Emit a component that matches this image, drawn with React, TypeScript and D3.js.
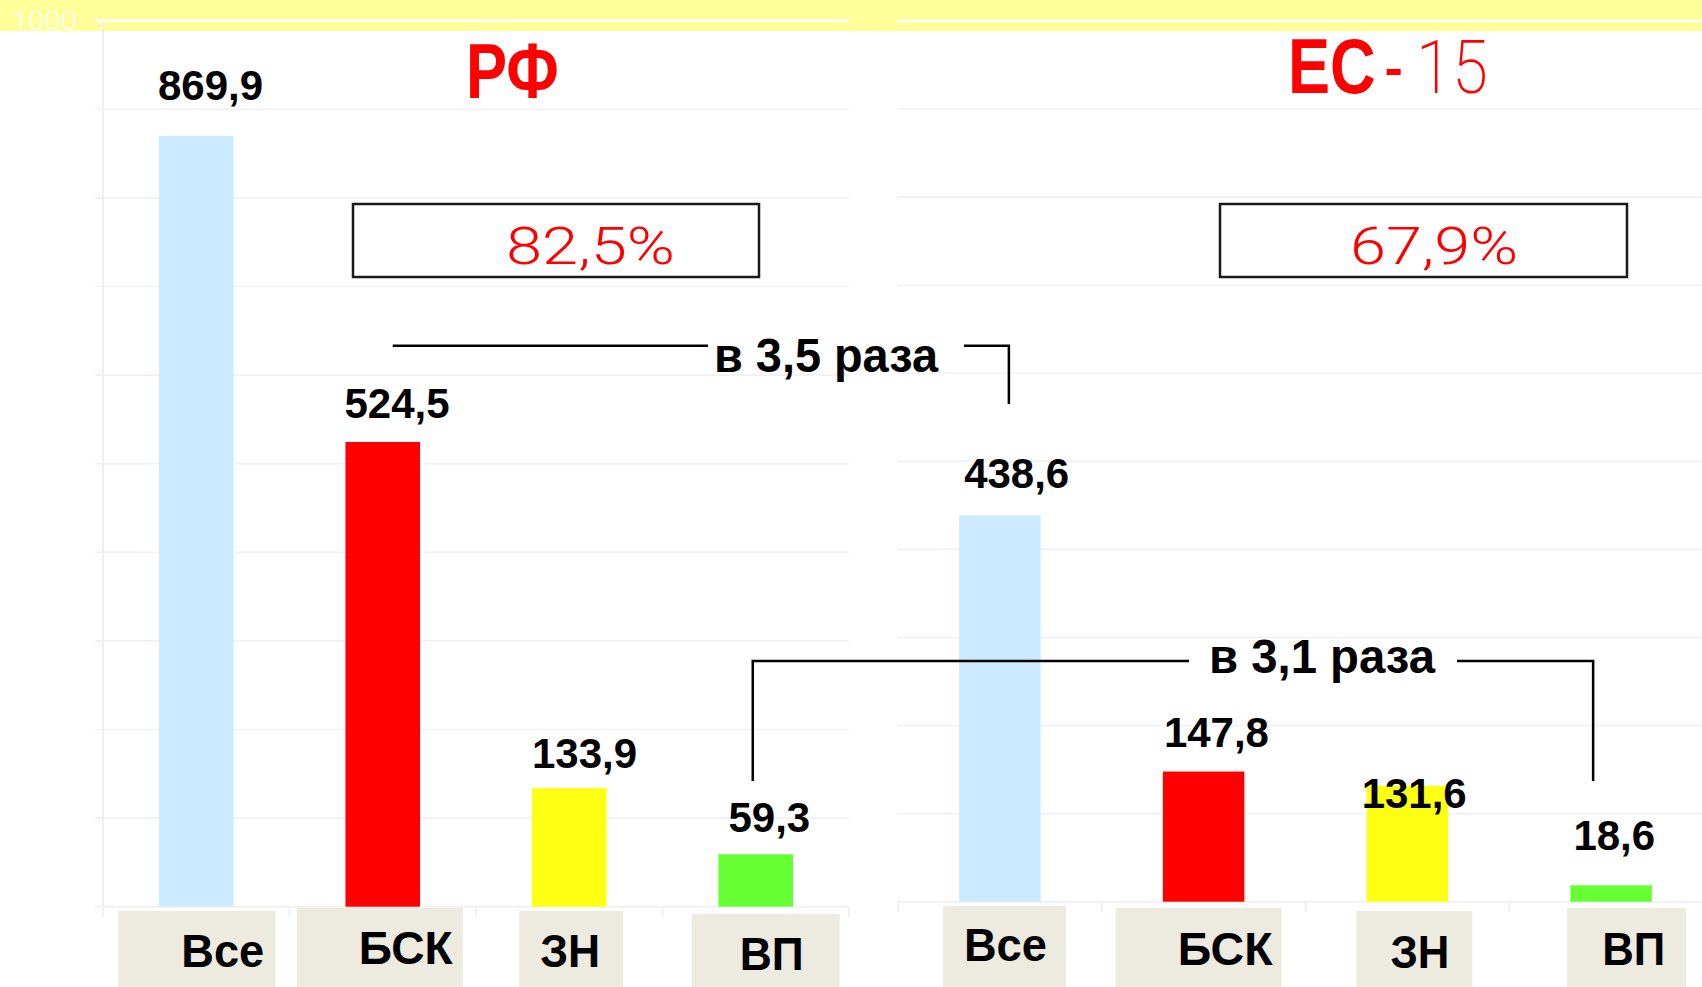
import React from 'react';
import * as d3 from 'd3';

// ---------- data ----------
const categories = ['Все', 'БСК', 'ЗН', 'ВП'];
const rfValues = [869.9, 524.5, 133.9, 59.3];
const euValues = [438.6, 147.8, 131.6, 18.6];
const rfValueLabels = ['869,9', '524,5', '133,9', '59,3'];
const euValueLabels = ['438,6', '147,8', '131,6', '18,6'];
const yTicks = [0, 100, 200, 300, 400, 500, 600, 700, 800, 900, 1000];
const topTickLabel = '1000';
const barColors = ['#cceaff', '#ff0000', '#ffff14', '#66ff33'];
const rfTitle = 'РФ';
const euTitleBold = 'ЕС';
const euTitleDash = '-';
const euTitleThin = '15';
const shareLabels = ['82,5%', '67,9%'];
const ratioLabels = ['в 3,5 раза', 'в 3,1 раза'];

// ---------- layout ----------
const W = 1702;
const H = 987;
const FONT = "'Liberation Sans', Arial, Helvetica, sans-serif";
const THIN = "Roboto, 'Open Sans', 'Liberation Sans', sans-serif";

const leftLayout = {
  x0: 103, x1: 849, yBase: 906.7, yTop: 20.7, gridX0: 95, gridX1: 849,
  labelDx: [-1, -1, 0, 10], labelGap: [36, 24, 20, 22],
  boxes: [
    { bx: -78, bw: 157, bt: 911, tx: -15, tl: 83, tb: 967 },
    { bx: -86, bw: 166, bt: 908, tx: -24, tl: 94, tb: 964 },
    { bx: -50, bw: 104, bt: 911, tx: -29, tl: 60, tb: 967 },
    { bx: -64, bw: 148, bt: 914, tx: -16, tl: 64, tb: 970 },
  ],
};
const rightLayout = {
  x0: 898, x1: 1713, yBase: 901.7, yTop: 21, gridX0: 897, gridX1: 1702,
  labelDx: [5, 1, -5, 3], labelGap: [27, 25, -22, 35],
  boxes: [
    { bx: -57, bw: 123, bt: 906, tx: -36, tl: 83, tb: 961 },
    { bx: -88, bw: 166, bt: 908, tx: -26, tl: 95, tb: 965 },
    { bx: -51, bw: 116, bt: 911, tx: -17, tl: 59, tb: 968 },
    { bx: -44, bw: 119, bt: 908, tx: -9, tl: 63, tb: 965 },
  ],
};

function makeScales(l: typeof leftLayout) {
  const x = d3.scaleBand<string>().domain(categories).range([l.x0, l.x1]).paddingInner(0.6).paddingOuter(0.3);
  const y = d3.scaleLinear().domain([0, 1000]).range([l.yBase, l.yTop]);
  return { x, y };
}

function Panel({ layout, values, labels, showTopLabel }: any) {
  const { x, y } = makeScales(layout);
  const step = x.step();
  const center = (c: string) => (x(c) as number) + x.bandwidth() / 2;
  return (
    <g>
      {yTicks.filter(t => t > 0).map(t => (
        <line key={t} x1={layout.gridX0} x2={layout.gridX1} y1={y(t)} y2={y(t)}
          stroke={t === 1000 ? '#ffffff' : '#f1f1f1'} strokeWidth={t === 1000 ? 2.5 : 1.6} />
      ))}
      {showTopLabel && (
        <>
          <line x1={layout.x0} x2={layout.x0} y1={y(1000)} y2={layout.yBase + 10} stroke="#efefef" strokeWidth={2} />
          <text x={12} y={y(1000) + 9} fill="#ffffff" fontFamily={THIN} fontWeight={300} fontSize={25}
            textLength={65} lengthAdjust="spacingAndGlyphs">{topTickLabel}</text>
        </>
      )}
      <line x1={layout.gridX0} x2={layout.gridX1} y1={y(0)} y2={y(0)} stroke="#f1f1f1" strokeWidth={2} />
      {categories.map((c, i) => {
        const xs = (x(c) as number) + x.bandwidth() / 2 - step / 2;
        return <line key={'t' + i} x1={xs} x2={xs} y1={y(0)} y2={y(0) + 10} stroke="#f1f1f1" strokeWidth={2} />;
      })}
      <line x1={layout.x1} x2={layout.x1} y1={y(0)} y2={y(0) + 10} stroke="#f1f1f1" strokeWidth={2} />
      {values.map((v: number, i: number) => (
        <rect key={'b' + i} x={x(categories[i])} y={y(v)} width={x.bandwidth()} height={y(0) - y(v)} fill={barColors[i]} />
      ))}
      {values.map((v: number, i: number) => (
        <text key={'v' + i} x={(x(categories[i]) as number) + layout.labelDx[i]} y={y(v) - layout.labelGap[i]}
          fontFamily={FONT} fontWeight={700} fontSize={42} fill="#000">{labels[i]}</text>
      ))}
      {categories.map((c, i) => {
        const b = layout.boxes[i];
        const cx = center(c);
        return (
          <g key={'c' + i}>
            <rect x={cx + b.bx} y={b.bt} width={b.bw} height={H - b.bt} fill="#edebe0" />
            <text x={cx + b.tx} y={b.tb} fontFamily={FONT} fontWeight={700} fontSize={46} fill="#000"
              textLength={b.tl} lengthAdjust="spacingAndGlyphs">{c}</text>
          </g>
        );
      })}
    </g>
  );
}

export default function App() {
  const L = makeScales(leftLayout);
  const R = makeScales(rightLayout);
  const cL = (c: string) => (L.x(c) as number) + L.x.bandwidth() / 2;
  const cR = (c: string) => (R.x(c) as number) + R.x.bandwidth() / 2;

  // ratio brackets
  const a1y = L.y(633);
  const a1x0 = cL('БСК') + 10;
  const a1x1 = cR('Все') + 9;
  const a1yEnd = R.y(565);
  const a1tx = 714, a1tl = 224;

  const a2y = L.y(277.3);
  const a2x0 = cL('ВП') - 3;
  const a2x1 = cR('ВП') - 18;
  const a2yEnd = L.y(141.9);
  const a2tx = 1209, a2tl = 226;

  return (
    <div style={{ position: 'absolute', left: 0, top: 0, width: W, height: H, overflow: 'hidden' }}>
      <svg width={W} height={H} style={{ display: 'block' }}>
        <rect x={0} y={0} width={W} height={H} fill="#ffffff" />
        <rect x={0} y={0} width={W} height={31} fill="#ffff99" />
        <Panel layout={leftLayout} values={rfValues} labels={rfValueLabels} showTopLabel />
        <Panel layout={rightLayout} values={euValues} labels={euValueLabels} showTopLabel={false} />

        {/* titles */}
        <text transform="translate(466,98) scale(0.8,1)" fill="#ff0000" fontFamily={FONT} fontWeight={700} fontSize={77}>{rfTitle}</text>
        <text transform="translate(1288,93) scale(0.82,1)" fill="#ff0000" fontFamily={FONT} fontWeight={700} fontSize={77}>{euTitleBold}</text>
        <text transform="translate(1384,93) scale(0.75,1)" fill="#ff0000" fontFamily={FONT} fontWeight={400} fontSize={77}>{euTitleDash}</text>
        <text transform="translate(1416,93) scale(0.87,1)" fill="#ff0000" fontFamily={THIN} fontWeight={200} fontSize={75}>{euTitleThin}</text>

        {/* share boxes */}
        <rect x={L.x.range()[0] + 250} y={204} width={406} height={73} fill="#fff" stroke="#1a1a1a" strokeWidth={2.5} />
        <text x={506} y={264} fill="#ff0000" fontFamily={THIN} fontWeight={300} fontSize={51}
          textLength={169} lengthAdjust="spacingAndGlyphs">{shareLabels[0]}</text>
        <rect x={R.x.range()[0] + 322} y={204} width={407} height={73} fill="#fff" stroke="#1a1a1a" strokeWidth={2.5} />
        <text x={1350} y={264} fill="#ff0000" fontFamily={THIN} fontWeight={300} fontSize={51}
          textLength={168} lengthAdjust="spacingAndGlyphs">{shareLabels[1]}</text>

        {/* ratio bracket 1 */}
        <path d={`M${a1x0},${a1y}H${a1tx - 6}`} stroke="#000" strokeWidth={2.5} fill="none" />
        <path d={`M${a1tx + a1tl + 26},${a1y}H${a1x1}V${a1yEnd}`} stroke="#000" strokeWidth={2.5} fill="none" />
        <text x={a1tx} y={372} fontFamily={FONT} fontWeight={700} fontSize={48} fill="#000"
          textLength={a1tl} lengthAdjust="spacingAndGlyphs">{ratioLabels[0]}</text>

        {/* ratio bracket 2 */}
        <path d={`M${a2x0},${a2yEnd}V${a2y}H${a2tx - 20}`} stroke="#000" strokeWidth={2.5} fill="none" />
        <path d={`M${a2tx + a2tl + 22},${a2y}H${a2x1}V${a2yEnd}`} stroke="#000" strokeWidth={2.5} fill="none" />
        <text x={a2tx} y={673} fontFamily={FONT} fontWeight={700} fontSize={48} fill="#000"
          textLength={a2tl} lengthAdjust="spacingAndGlyphs">{ratioLabels[1]}</text>
      </svg>
    </div>
  );
}
